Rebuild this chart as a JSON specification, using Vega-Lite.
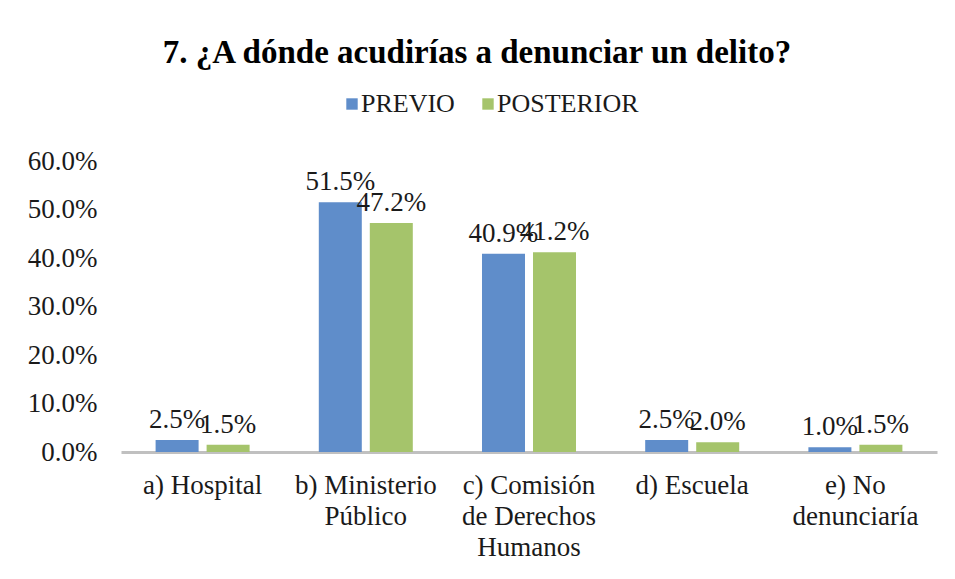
{
  "$schema": "https://vega.github.io/schema/vega-lite/v6.json",
  "width": 816,
  "height": 291,
  "autosize": {"type": "none"},
  "padding": {"left": 121, "top": 161, "right": 18, "bottom": 127},
  "background": "white",
  "config": {"view": {"stroke": null}},
  "title": {
    "text": "7. ¿A dónde acudirías a denunciar un delito?",
    "font": "Liberation Serif",
    "fontSize": 33,
    "fontWeight": "bold",
    "color": "#000000",
    "anchor": "middle",
    "frame": "group",
    "dx": -52,
    "offset": 21
  },
  "data": {
    "values": [
      {"categoria": "a) Hospital", "serie": "PREVIO", "valor": 0.025},
      {"categoria": "a) Hospital", "serie": "POSTERIOR", "valor": 0.015},
      {"categoria": "b) Ministerio Público", "serie": "PREVIO", "valor": 0.515},
      {"categoria": "b) Ministerio Público", "serie": "POSTERIOR", "valor": 0.472},
      {"categoria": "c) Comisión de Derechos Humanos", "serie": "PREVIO", "valor": 0.409},
      {"categoria": "c) Comisión de Derechos Humanos", "serie": "POSTERIOR", "valor": 0.412},
      {"categoria": "d) Escuela", "serie": "PREVIO", "valor": 0.025},
      {"categoria": "d) Escuela", "serie": "POSTERIOR", "valor": 0.02},
      {"categoria": "e) No denunciaría", "serie": "PREVIO", "valor": 0.01},
      {"categoria": "e) No denunciaría", "serie": "POSTERIOR", "valor": 0.015}
    ]
  },
  "encoding": {
    "x": {
      "field": "categoria",
      "type": "nominal",
      "sort": null,
      "scale": {"paddingInner": 0.424, "paddingOuter": 0.212},
      "axis": {
        "title": null,
        "labelAngle": 0,
        "labelFont": "Liberation Serif",
        "labelFontSize": 27,
        "labelColor": "#1a1a1a",
        "labelPadding": 20,
        "labelLineHeight": 31,
        "labelBaseline": "top",
        "labelLimit": 0,
        "ticks": false,
        "domain": true,
        "domainColor": "#c0c0c0",
        "domainWidth": 3,
        "labelExpr": "datum.label == 'b) Ministerio Público' ? ['b) Ministerio', 'Público'] : datum.label == 'c) Comisión de Derechos Humanos' ? ['c) Comisión', 'de Derechos', 'Humanos'] : datum.label == 'e) No denunciaría' ? ['e) No', 'denunciaría'] : datum.label"
      }
    },
    "xOffset": {
      "field": "serie",
      "sort": ["PREVIO", "POSTERIOR"],
      "scale": {"paddingInner": 0.157, "paddingOuter": 0}
    },
    "y": {
      "field": "valor",
      "type": "quantitative",
      "scale": {"domain": [0, 0.6], "nice": false},
      "axis": {
        "title": null,
        "values": [0, 0.1, 0.2, 0.3, 0.4, 0.5, 0.6],
        "format": ".1%",
        "grid": false,
        "domain": false,
        "ticks": false,
        "labelFont": "Liberation Serif",
        "labelFontSize": 27,
        "labelColor": "#1a1a1a",
        "labelPadding": 24
      }
    },
    "color": {
      "field": "serie",
      "type": "nominal",
      "scale": {"domain": ["PREVIO", "POSTERIOR"], "range": ["#5f8dca", "#a5c46b"]},
      "legend": {
        "title": null,
        "orient": "none",
        "legendX": 218,
        "legendY": -70,
        "direction": "horizontal",
        "symbolType": "square",
        "symbolSize": 130,
        "symbolStrokeWidth": 0,
        "labelFont": "Liberation Serif",
        "labelFontSize": 26,
        "labelColor": "#1a1a1a",
        "columnPadding": 20,
        "labelOffset": -4
      }
    }
  },
  "layer": [
    {"mark": {"type": "bar"}},
    {
      "mark": {"type": "text", "baseline": "bottom", "dy": -6, "font": "Liberation Serif", "fontSize": 27},
      "encoding": {
        "text": {"field": "valor", "type": "quantitative", "format": ".1%"},
        "color": {"value": "#1a1a1a"}
      }
    }
  ]
}
